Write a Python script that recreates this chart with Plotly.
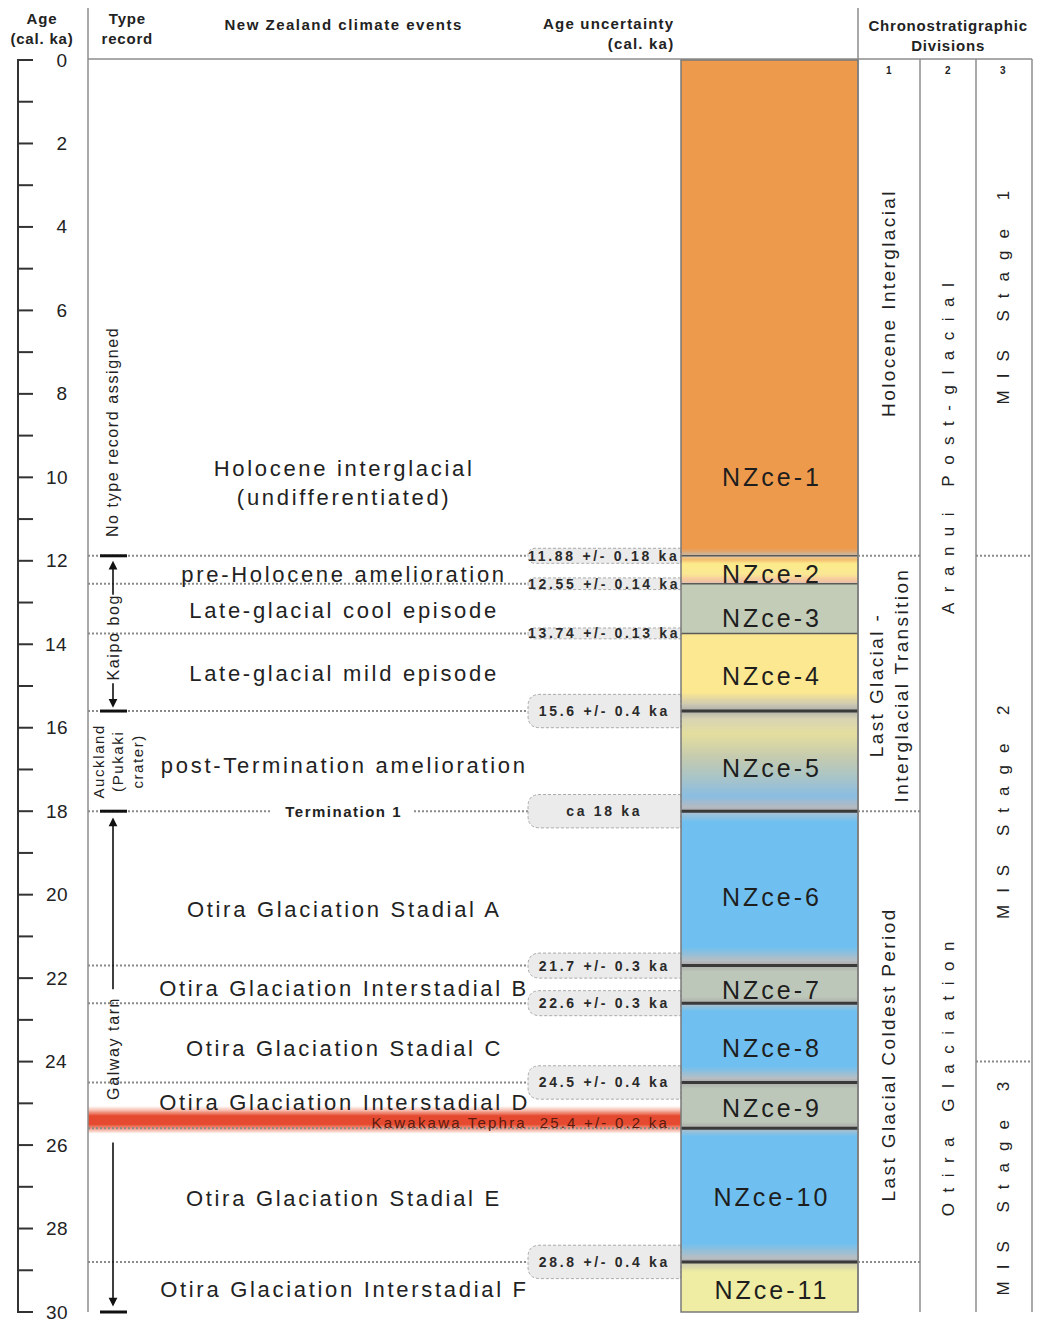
import json
import numpy as np
import plotly.graph_objects as go

# ============================ DATA ============================
age_major_ticks = [0, 2, 4, 6, 8, 10, 12, 14, 16, 18, 20, 22, 24, 26, 28, 30]
age_minor_ticks = [1, 3, 5, 7, 9, 11, 13, 15, 17, 19, 21, 23, 25, 27, 29]

nzce_codes = ["NZce-1", "NZce-2", "NZce-3", "NZce-4", "NZce-5", "NZce-6",
              "NZce-7", "NZce-8", "NZce-9", "NZce-10", "NZce-11"]
nzce_events = ["Holocene interglacial<br>(undifferentiated)",
               "pre-Holocene amelioration",
               "Late-glacial cool episode",
               "Late-glacial mild episode",
               "post-Termination amelioration",
               "Otira Glaciation Stadial A",
               "Otira Glaciation Interstadial B",
               "Otira Glaciation Stadial C",
               "Otira Glaciation Interstadial D",
               "Otira Glaciation Stadial E",
               "Otira Glaciation Interstadial F"]
nzce_top = [0.0, 11.88, 12.55, 13.74, 15.6, 18.0, 21.7, 22.6, 24.5, 25.6, 28.8]
nzce_base = [11.88, 12.55, 13.74, 15.6, 18.0, 21.7, 22.6, 24.5, 25.6, 28.8, 30.0]

boundary_ages = [11.88, 12.55, 13.74, 15.6, 18.0, 21.7, 22.6, 24.5, 28.8]
boundary_unc = [0.18, 0.14, 0.13, 0.4, 0.4, 0.3, 0.3, 0.4, 0.4]
boundary_labels = ["11.88 +/- 0.18 ka", "12.55 +/- 0.14 ka", "13.74 +/- 0.13 ka",
                   "15.6 +/- 0.4 ka", "ca 18 ka", "21.7 +/- 0.3 ka",
                   "22.6 +/- 0.3 ka", "24.5 +/- 0.4 ka", "28.8 +/- 0.4 ka"]
termination_label = "Termination 1"
termination_age = 18.0

tephra_name = "Kawakawa Tephra"
tephra_age = 25.4
tephra_unc = 0.2

type_record_names = ["No type record assigned", "Kaipo bog",
                     "Auckland<br>(Pukaki<br>crater)", "Galway tarn"]
type_record_top = [0.0, 11.88, 15.6, 18.0]
type_record_base = [11.88, 15.6, 18.0, 30.0]

chrono_numbers = ["1", "2", "3"]
chrono1_names = ["Holocene Interglacial", "Last Glacial -<br>Interglacial Transition",
                 "Last Glacial Coldest Period"]
chrono1_breaks = [11.88, 18.0, 28.8]
chrono2_names = ["Aranui Post-glacial", "Otira Glaciation"]
chrono3_names = ["MIS Stage 1", "MIS Stage 2", "MIS Stage 3"]
chrono3_breaks = [11.88, 24.0]

# ====================== LAYOUT / STYLE ========================
W, H = 1040, 1322
Y_TOP_PX, Y_BOT_PX = 60, 1312
AGE_MIN, AGE_MAX = 0.0, 30.0
PPK = (Y_BOT_PX - Y_TOP_PX) / (AGE_MAX - AGE_MIN)


def ka(px):
    return AGE_MIN + (px - Y_TOP_PX) / PPK


FONT = "Liberation Sans, Arial, Helvetica, sans-serif"
TXT = "#222222"
GRID = "#8c8c8c"
DOT = "#8a8a8a"

AXIS_X, TICK_LEN, AXIS_LBL_X = 18, 15, 69
COL_L, TYPE_X, BAR_L, BAR_R = 88, 113, 100, 127
EVENT_X, BUBBLE_L, BUBBLE_TXT_X = 343, 528, 603
NZ_L, NZ_R, NZ_X = 681, 858, 770
CH_EDGES = [858, 920, 976, 1032]
CH_X = [889, 948, 1003]

nzce_label_ka = [10.0, 12.32, 13.37, 14.76, 16.97, 20.06, 22.29, 23.68, 25.11, 27.25, 29.48]
event_label_ka = [10.14, 12.32, 13.2, 14.69, 16.9, 20.35, 22.24, 23.68, 24.97, 27.27, 29.45]
nz_line_w = [1.5, 1.5, 1.5, 3, 3, 3, 3, 3, 3, 3]

type_label_ka = [8.95, 13.85, 16.82, 23.72]
type_label_x = [113, 113, 118, 113]
type_arrows = [  # (tail, head)
    (12.85, 12.0), (14.9, 15.52), (22.3, 18.15), (25.9, 29.87)]

chrono1_label_ka = [5.87, 15.0, 23.87]
chrono2_label_ka = [9.31, 24.43]
chrono3_label_ka = [5.69, 18.02, 27.04]

# colour gradients inside each NZce band (fraction of band, colour)
nzce_gradients = [
    [(0, "#EE9A4C"), (0.985, "#EE9A4C"), (1, "#C9B9A5")],
    [(0, "#D7C9B5"), (0.13, "#F5BE70"), (0.3, "#FCEB8C"), (0.65, "#FBE893"), (0.88, "#F4C6A0"), (1, "#D9C3B6")],
    [(0, "#C3CCB6"), (1, "#C3CCB6")],
    [(0, "#FBE592"), (0.05, "#FCE890"), (0.76, "#FCE890"), (0.92, "#CBC7B3"), (1, "#A8A8A6")],
    [(0, "#B3B2AC"), (0.08, "#D8D4B2"), (0.23, "#E4DE9E"), (0.46, "#C5CBAF"), (0.67, "#A8C4C8"),
     (0.85, "#8ABDE2"), (0.96, "#B4BAC0"), (1, "#A5A5A5")],
    [(0, "#AFC3D2"), (0.07, "#6FC0F0"), (0.88, "#6FC0F0"), (0.97, "#B8BEC2"), (1, "#A5A5A5")],
    [(0, "#ABAEAB"), (0.17, "#BDC7B9"), (0.83, "#BDC7B9"), (1, "#AAABA9")],
    [(0, "#B2BFC8"), (0.1, "#6FC0F0"), (0.8, "#6FC0F0"), (0.95, "#B8BEC2"), (1, "#A5A5A5")],
    [(0, "#ABAEAB"), (0.15, "#BDC7B9"), (0.85, "#BDC7B9"), (1, "#AAABA9")],
    [(0, "#B2BFC8"), (0.06, "#6FC0F0"), (0.86, "#6FC0F0"), (0.97, "#B8BEC2"), (1, "#A5A5A5")],
    [(0, "#C8C7B3"), (0.2, "#EEEDA3"), (1, "#EEEDA3")],
]
tephra_gradient = [(-1.7, "#FFFFFF"), (-1.1, "#F6B8A8"), (-0.5, "#E54A30"),
                   (0.55, "#E54A30"), (1.1, "#F2A390"), (1.7, "#FFFFFF")]

# ========================= BUILD ==============================
fig = go.Figure()

# NZce column as a gradient heatmap
stops = []
last = -1.0
for top, base, grad in zip(nzce_top, nzce_base, nzce_gradients):
    for f, c in grad:
        pos = (top + f * (base - top) - AGE_MIN) / (AGE_MAX - AGE_MIN)
        if pos <= last:
            pos = last + 1e-6
        pos = min(pos, 1.0)
        stops.append([pos, c])
        last = pos
stops[0][0] = 0.0
stops[-1][0] = 1.0
y_edges = np.linspace(AGE_MIN, AGE_MAX, 1501)
y_cent = (y_edges[:-1] + y_edges[1:]) / 2
fig.add_trace(go.Heatmap(x=[NZ_L, NZ_R], y=y_edges, z=y_cent.reshape(-1, 1),
                         colorscale=stops, zmin=AGE_MIN, zmax=AGE_MAX,
                         showscale=False, hoverinfo="skip"))

# tephra band
t_lo, t_hi = tephra_gradient[0][0], tephra_gradient[-1][0]
ty_edges = np.linspace(tephra_age + t_lo * tephra_unc, tephra_age + t_hi * tephra_unc, 81)
ty_cent = (ty_edges[:-1] + ty_edges[1:]) / 2
tcs = [[(v - t_lo) / (t_hi - t_lo), c] for v, c in tephra_gradient]
fig.add_trace(go.Heatmap(x=[COL_L, NZ_L], y=ty_edges,
                         z=((ty_cent - tephra_age) / tephra_unc).reshape(-1, 1),
                         colorscale=tcs, zmin=t_lo, zmax=t_hi,
                         showscale=False, hoverinfo="skip"))

shapes = []


def line(x0, y0, x1, y1, color, width, dash="solid", layer="above"):
    shapes.append(dict(type="line", xref="x", yref="y", x0=x0, y0=y0, x1=x1, y1=y1,
                       line=dict(color=color, width=width, dash=dash), layer=layer))


annotations = []
spacing = []


def text(t, x, y, size, bold=False, color=TXT, xanchor="center", align="center",
         angle=0, ls=0.0, yanchor="middle"):
    xs, ys = 0, 0
    if angle == 0 and align == "center":
        xs = ls / 2
    elif angle == 0 and align == "right":
        xs = ls
    elif angle != 0:
        ys = ls / 2
    annotations.append(dict(text=t, x=x, y=y, xref="x", yref="y", showarrow=False,
                            xanchor=xanchor, yanchor=yanchor, align=align,
                            textangle=angle, xshift=xs, yshift=ys,
                            font=dict(family=FONT, size=size, color=color,
                                      weight="bold" if bold else "normal")))
    spacing.append(ls)


def arrow(x, tail, head):
    annotations.append(dict(text="", x=x, y=head, ax=x, ay=tail, xref="x", yref="y",
                            axref="x", ayref="y", showarrow=True, arrowhead=2,
                            arrowsize=1.1, arrowwidth=1.6, arrowcolor="#111", standoff=0))
    spacing.append(0)


# age axis
line(AXIS_X, AGE_MIN, AXIS_X, AGE_MAX, "#333", 2)
for t in age_major_ticks + age_minor_ticks:
    line(AXIS_X - 1, t, AXIS_X + TICK_LEN, t, "#333", 2)
for t in age_major_ticks:
    text(str(t), AXIS_LBL_X, t, 19, xanchor="right", align="right", ls=0.5)

# frame lines
line(COL_L, ka(8), COL_L, AGE_MAX, GRID, 1.5)
line(CH_EDGES[0], ka(8), CH_EDGES[0], AGE_MAX, GRID, 1.5)
line(COL_L, ka(59), CH_EDGES[-1], ka(59), GRID, 1.5)
for xe in CH_EDGES[1:]:
    line(xe, ka(59), xe, AGE_MAX, GRID, 1.5)

# headers
text("Age<br>(cal. ka)", 42, ka(28), 15, bold=True, ls=0.8)
text("Type<br>record", 127, ka(28), 15, bold=True, ls=0.8)
text("New Zealand climate events", EVENT_X, ka(24), 15, bold=True, ls=1.5)
text("Age uncertainty<br>(cal. ka)", 676, ka(33), 15, bold=True, xanchor="right", align="right", ls=1.2)
text("Chronostratigraphic<br>Divisions", 948, ka(35), 15, bold=True, ls=0.8)
for n, xc in zip(chrono_numbers, CH_X):
    text(n, xc, ka(70), 10, bold=True)

# event dotted lines and uncertainty bubbles
for a in nzce_base[:-1]:
    if a in boundary_ages:
        if a == termination_age:
            line(COL_L, a, 272, a, DOT, 2, "2px,2px", "below")
            line(414, a, BUBBLE_L, a, DOT, 2, "2px,2px", "below")
        else:
            line(COL_L, a, BUBBLE_L, a, DOT, 2, "2px,2px", "below")
    else:
        line(COL_L, a, NZ_L, a, DOT, 2, "2px,2px", "above")

for a, u, lab in zip(boundary_ages, boundary_unc, boundary_labels):
    yt, yb = a - u, a + u
    hpx = 2 * u * PPK
    r = min(hpx / 2, 12)
    ry = r / PPK
    path = (f"M {NZ_L},{yt} L {BUBBLE_L + r},{yt} Q {BUBBLE_L},{yt} {BUBBLE_L},{yt + ry} "
            f"L {BUBBLE_L},{yb - ry} Q {BUBBLE_L},{yb} {BUBBLE_L + r},{yb} L {NZ_L},{yb} Z")
    shapes.append(dict(type="path", path=path, xref="x", yref="y", layer="above",
                       fillcolor="#EBEBEB", line=dict(color="#AAAAAA", width=1, dash="3px,2px")))
    text(lab, BUBBLE_TXT_X, a, 14, bold=True, color="#2a2a2a", ls=2.7)

text(termination_label, EVENT_X, termination_age, 15, bold=True, ls=1.5)

# tephra label
text(f"{tephra_name}\u00a0\u00a0{tephra_age} +/- {tephra_unc} ka", 670, tephra_age + 0.05, 15,
     color="#5b1a0e", xanchor="right", align="right", ls=2.2)

# NZce column boundaries and frame
for a, w in zip(nzce_base[:-1], nz_line_w):
    line(NZ_L, a, NZ_R, a, "#3a3a3a" if w > 2 else "#5a5a5a", w)
shapes.append(dict(type="rect", xref="x", yref="y", x0=NZ_L, x1=NZ_R, y0=AGE_MIN, y1=AGE_MAX,
                   line=dict(color="#7a7a7a", width=1.5), fillcolor="rgba(0,0,0,0)", layer="above"))

for code, yk in zip(nzce_codes, nzce_label_ka):
    text(code, NZ_X, yk, 25, color="#1e1e1e", ls=3)
for ev, yk in zip(nzce_events, event_label_ka):
    text(ev, EVENT_X, yk, 22, color="#222", ls=2.7)

# type records
for a in sorted(set(type_record_top[1:] + type_record_base)):
    line(BAR_L, a, BAR_R, a, "#111", 3)
for name, xk, yk in zip(type_record_names, type_label_x, type_label_ka):
    text(name, xk, yk, 16 if "Auckland" not in name else 15, angle=-90, ls=1.6)
for tail, head in type_arrows:
    arrow(TYPE_X, tail, head)

# chronostratigraphic columns
for a in chrono1_breaks:
    line(CH_EDGES[0], a, CH_EDGES[1], a, DOT, 2, "2px,2px")
for a in chrono3_breaks:
    line(CH_EDGES[2], a, CH_EDGES[3], a, DOT, 2, "2px,2px")
for name, yk in zip(chrono1_names, chrono1_label_ka):
    text(name, CH_X[0], yk, 19, angle=-90, ls=2.4)
for name, yk in zip(chrono2_names, chrono2_label_ka):
    text(name, CH_X[1], yk, 17, angle=-90, ls=10.5)
for name, yk in zip(chrono3_names, chrono3_label_ka):
    text(name, CH_X[2], yk, 17, angle=-90, ls=12)

fig.update_layout(
    width=W, height=H, margin=dict(l=0, r=0, t=0, b=0),
    paper_bgcolor="white", plot_bgcolor="white", showlegend=False,
    xaxis=dict(range=[0, W], visible=False, fixedrange=True),
    yaxis=dict(range=[ka(H), ka(0)], visible=False, fixedrange=True),
    shapes=shapes, annotations=annotations,
)

ls_map = {str(i): s for i, s in enumerate(spacing) if s}
post = """
document.body.style.margin = '0';
var sp = %s;
document.querySelectorAll('g.annotation').forEach(function(g){
  var i = g.getAttribute('data-index');
  if (sp[i] !== undefined) {
    var t = g.querySelector('text.annotation-text');
    if (t) { t.style.letterSpacing = sp[i] + 'px'; }
  }
});
""" % json.dumps(ls_map)

fig.write_html("out.html", post_script=post, config={"displayModeBar": False})
